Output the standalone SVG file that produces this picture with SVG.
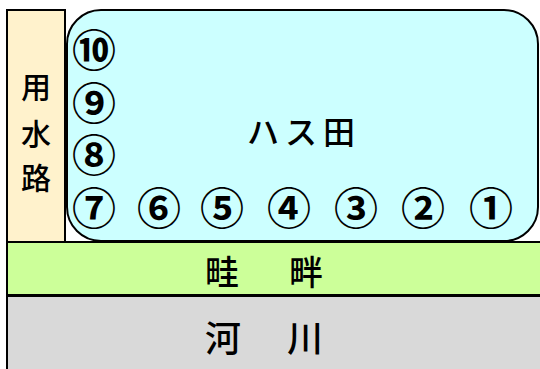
<svg xmlns="http://www.w3.org/2000/svg" width="540" height="369" viewBox="0 0 540 369">
<style>
.b{stroke:#000;stroke-width:2}
.t{font-family:"Noto Sans CJK JP","Noto Sans CJK SC",sans-serif;font-weight:500;fill:#000;text-anchor:middle}
.n{font-family:"Liberation Sans","Noto Sans CJK JP","Noto Sans CJK SC",sans-serif;font-size:44px;font-weight:bold;fill:#000;text-anchor:middle}
</style>
<rect width="540" height="369" fill="#fff"/>
<g id="river">
<rect class="b" x="7" y="296" width="540" height="80" fill="#D9D9D9"/>
<text class="t" x="223" y="352" font-size="36">河</text>
<text class="t" x="305" y="352" font-size="36">川</text>
</g>
<g id="levee">
<rect class="b" x="7" y="242" width="540" height="53" fill="#CCFF99"/>
<text class="t" x="222" y="285" font-size="34">畦</text>
<text class="t" x="306" y="285" font-size="34">畔</text>
</g>
<g id="channel">
<rect class="b" x="7" y="10" width="58" height="232" fill="#FFF2CC"/>
<text class="t" x="36" y="98" font-size="30">用</text>
<text class="t" x="36" y="145" font-size="30">水</text>
<text class="t" x="36" y="189" font-size="30">路</text>
</g>
<g id="field">
<rect class="b" x="67" y="10" width="471" height="231" rx="34" fill="#CCFFFF"/>
<text class="t" x="304" y="144" font-size="32" letter-spacing="6">ハス田</text>
<text class="n" x="94" y="67">⑩</text>
<text class="n" x="94" y="120">⑨</text>
<text class="n" x="94" y="172">⑧</text>
<text class="n" x="94" y="225">⑦</text>
<text class="n" x="159" y="225">⑥</text>
<text class="n" x="222" y="225">⑤</text>
<text class="n" x="289" y="225">④</text>
<text class="n" x="356" y="225">③</text>
<text class="n" x="423" y="225">②</text>
<text class="n" x="491" y="225">①</text>
</g>
<g id="connectors"></g>
</svg>
